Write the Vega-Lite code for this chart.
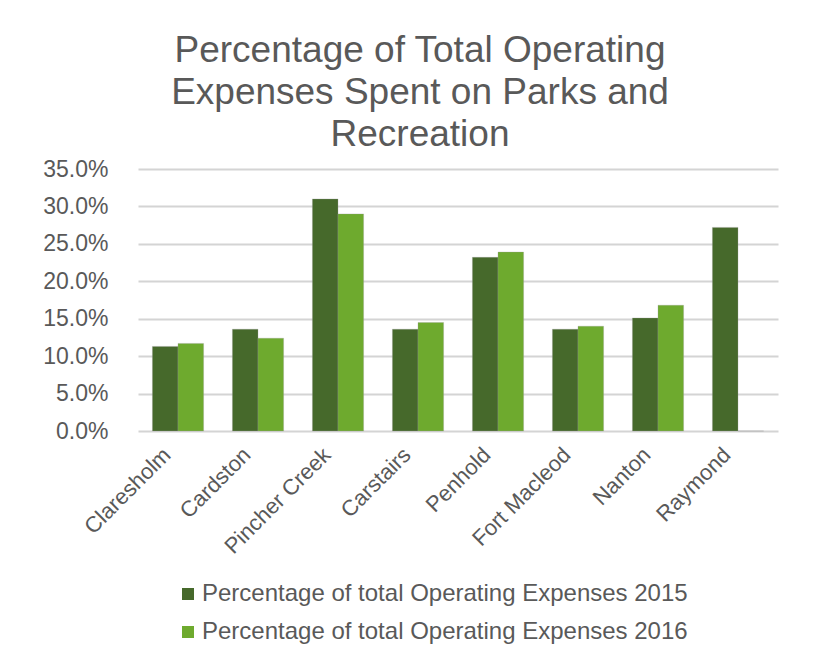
{
  "$schema": "https://vega.github.io/schema/vega-lite/v6.json",
  "width": 640,
  "height": 262,
  "autosize": {"type": "none"},
  "padding": {"left": 138, "top": 169, "right": 57, "bottom": 221},
  "background": "white",
  "title": {
    "text": ["Percentage of Total Operating", "Expenses Spent on Parks and", "Recreation"],
    "font": "Liberation Sans",
    "fontSize": 37,
    "fontWeight": "normal",
    "color": "#595959",
    "lineHeight": 42,
    "anchor": "middle",
    "dx": -38,
    "offset": 4
  },
  "data": {
    "values": [
      {"town": "Claresholm", "series": "Percentage of total Operating Expenses 2015", "value": 0.113},
      {"town": "Claresholm", "series": "Percentage of total Operating Expenses 2016", "value": 0.117},
      {"town": "Cardston", "series": "Percentage of total Operating Expenses 2015", "value": 0.136},
      {"town": "Cardston", "series": "Percentage of total Operating Expenses 2016", "value": 0.124},
      {"town": "Pincher Creek", "series": "Percentage of total Operating Expenses 2015", "value": 0.310},
      {"town": "Pincher Creek", "series": "Percentage of total Operating Expenses 2016", "value": 0.290},
      {"town": "Carstairs", "series": "Percentage of total Operating Expenses 2015", "value": 0.136},
      {"town": "Carstairs", "series": "Percentage of total Operating Expenses 2016", "value": 0.145},
      {"town": "Penhold", "series": "Percentage of total Operating Expenses 2015", "value": 0.232},
      {"town": "Penhold", "series": "Percentage of total Operating Expenses 2016", "value": 0.239},
      {"town": "Fort Macleod", "series": "Percentage of total Operating Expenses 2015", "value": 0.136},
      {"town": "Fort Macleod", "series": "Percentage of total Operating Expenses 2016", "value": 0.140},
      {"town": "Nanton", "series": "Percentage of total Operating Expenses 2015", "value": 0.151},
      {"town": "Nanton", "series": "Percentage of total Operating Expenses 2016", "value": 0.168},
      {"town": "Raymond", "series": "Percentage of total Operating Expenses 2015", "value": 0.272},
      {"town": "Raymond", "series": "Percentage of total Operating Expenses 2016", "value": 0.0}
    ]
  },
  "mark": {"type": "bar", "stroke": "#9a9a9a", "strokeWidth": 0.5, "strokeOpacity": 0.6},
  "encoding": {
    "x": {
      "field": "town",
      "type": "nominal",
      "sort": ["Claresholm", "Cardston", "Pincher Creek", "Carstairs", "Penhold", "Fort Macleod", "Nanton", "Raymond"],
      "scale": {"paddingInner": 0.36, "paddingOuter": 0.18},
      "axis": {
        "title": null,
        "domain": false,
        "ticks": false,
        "grid": false,
        "labelAngle": -45,
        "labelAlign": "right",
        "labelBaseline": "middle",
        "labelFont": "Liberation Sans",
        "labelFontSize": 22,
        "labelColor": "#595959",
        "labelPadding": 20,
        "labelOffset": -11
      }
    },
    "xOffset": {
      "field": "series",
      "sort": ["Percentage of total Operating Expenses 2015", "Percentage of total Operating Expenses 2016"]
    },
    "y": {
      "field": "value",
      "type": "quantitative",
      "scale": {"domain": [0, 0.35], "nice": false},
      "axis": {
        "title": null,
        "domain": false,
        "ticks": false,
        "values": [0, 0.05, 0.1, 0.15, 0.2, 0.25, 0.3, 0.35],
        "format": ".1%",
        "labelFont": "Liberation Sans",
        "labelFontSize": 23,
        "labelColor": "#595959",
        "labelPadding": 30,
        "gridColor": "#d4d4d4",
        "gridWidth": 2
      }
    },
    "color": {
      "field": "series",
      "type": "nominal",
      "sort": ["Percentage of total Operating Expenses 2015", "Percentage of total Operating Expenses 2016"],
      "scale": {
        "domain": ["Percentage of total Operating Expenses 2015", "Percentage of total Operating Expenses 2016"],
        "range": ["#46692B", "#6EAA2E"]
      },
      "legend": {
        "title": null,
        "orient": "bottom",
        "direction": "vertical",
        "symbolType": "square",
        "symbolSize": 144,
        "symbolStrokeWidth": 0,
        "labelFont": "Liberation Sans",
        "labelFontSize": 24,
        "labelLimit": 700,
        "labelColor": "#595959",
        "labelOffset": 2,
        "rowPadding": 14,
        "padding": 38,
        "offset": -14
      }
    }
  },
  "config": {
    "view": {"stroke": null}
  }
}
